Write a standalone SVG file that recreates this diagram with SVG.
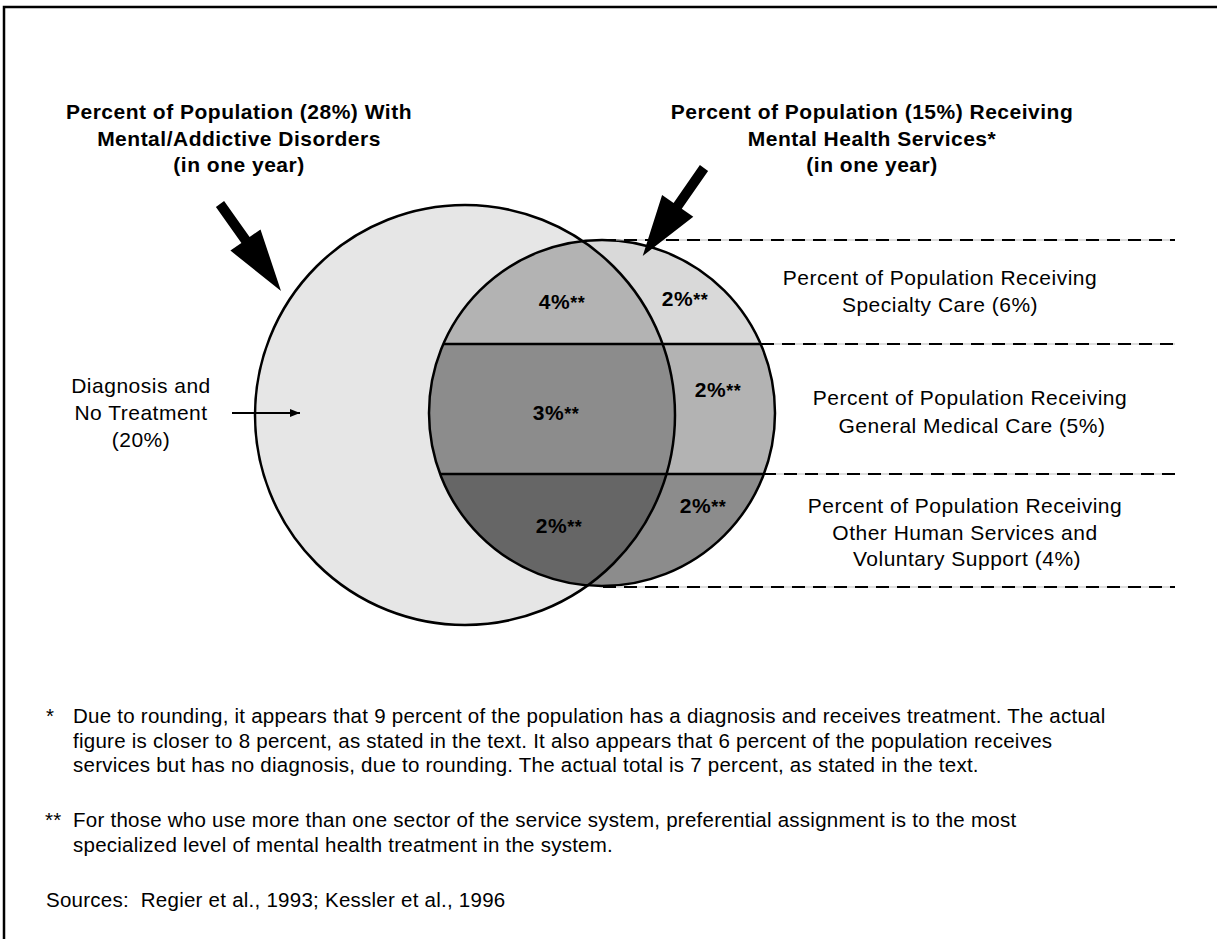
<svg xmlns="http://www.w3.org/2000/svg" width="1217" height="939" viewBox="0 0 1217 939">
<style>
text{font-family:"Liberation Sans",Arial,sans-serif;fill:#000}
.title{font-size:21px;font-weight:bold;letter-spacing:0.5px;text-anchor:middle}
.lab{font-size:21px;letter-spacing:0.5px;text-anchor:middle}
.pct{font-size:21px;font-weight:bold;letter-spacing:0.5px;text-anchor:middle}
.pct tspan{font-size:18px}
.foot{font-size:20.5px;letter-spacing:0.25px}
.dash{stroke:#000;stroke-width:2;stroke-dasharray:13 8;fill:none}
.guide{stroke:#bbb;stroke-width:1;fill:none}
.sep{stroke:#000;stroke-width:2.5}
.outline{fill:none;stroke:#000;stroke-width:2.5}
</style>
<defs>
<clipPath id="smallClip"><circle cx="602" cy="413" r="173"/></clipPath>
<clipPath id="bigClip"><circle cx="465" cy="415" r="210"/></clipPath>
<marker id="arr" viewBox="0 0 10 8" refX="10" refY="4" markerWidth="10" markerHeight="8" markerUnits="userSpaceOnUse" orient="auto"><path d="M0,0L10,4L0,8Z" fill="#000"/></marker>
</defs>
<g id="frame"><path d="M4,939V7H1217" fill="none" stroke="#000" stroke-width="2.5"/></g>
<g id="big-circle"><circle cx="465" cy="415" r="210" fill="#e6e6e6"/></g>
<g id="small-circle">
<g clip-path="url(#smallClip)">
<rect x="420" y="235" width="370" height="109" fill="#d9d9d9"/>
<rect x="420" y="344" width="370" height="130" fill="#b3b3b3"/>
<rect x="420" y="474" width="370" height="120" fill="#8c8c8c"/>
<g clip-path="url(#bigClip)">
<rect x="420" y="235" width="370" height="109" fill="#b3b3b3"/>
<rect x="420" y="344" width="370" height="130" fill="#8c8c8c"/>
<rect x="420" y="474" width="370" height="120" fill="#666666"/>
</g>
<line class="sep" x1="420" y1="344" x2="790" y2="344"/>
<line class="sep" x1="420" y1="474" x2="790" y2="474"/>
</g>
</g>
<g id="outlines">
<circle class="outline" cx="465" cy="415" r="210"/>
<circle class="outline" cx="602" cy="413" r="173"/>
</g>
<g id="connectors">
<path class="guide" d="M603,240H1175M761,344H1175M763,474H1175M603,587H1175"/>
<path class="dash" d="M603,240H1175M761,344H1175M763,474H1175M603,587H1175"/>
<polygon points="224.1,201.1 249.6,237.1 260.5,229.4 281,291 230.4,250.6 241.4,242.9 215.9,206.9" fill="#000"/>
<polygon points="708.1,170.9 681.8,208.7 693.3,216.7 642.7,256 662.1,194.9 673.6,202.9 699.9,165.1" fill="#000"/>
<line x1="232" y1="413" x2="300" y2="413" stroke="#000" stroke-width="2" marker-end="url(#arr)"/>
</g>
<g id="title-left">
<text class="title" x="239" y="119">Percent of Population (28%) With</text>
<text class="title" x="239" y="146">Mental/Addictive Disorders</text>
<text class="title" x="239" y="172">(in one year)</text>
</g>
<g id="title-right">
<text class="title" x="872" y="119">Percent of Population (15%) Receiving</text>
<text class="title" x="872" y="146">Mental Health Services*</text>
<text class="title" x="872" y="172">(in one year)</text>
</g>
<g id="label-diagnosis">
<text class="lab" x="141" y="393">Diagnosis and</text>
<text class="lab" x="141" y="420">No Treatment</text>
<text class="lab" x="141" y="447">(20%)</text>
</g>
<g id="label-specialty">
<text class="lab" x="940" y="285">Percent of Population Receiving</text>
<text class="lab" x="940" y="312">Specialty Care (6%)</text>
</g>
<g id="label-general">
<text class="lab" x="970" y="405">Percent of Population Receiving</text>
<text class="lab" x="972" y="433">General Medical Care (5%)</text>
</g>
<g id="label-other">
<text class="lab" x="965" y="513">Percent of Population Receiving</text>
<text class="lab" x="965" y="540">Other Human Services and</text>
<text class="lab" x="967" y="566">Voluntary Support (4%)</text>
</g>
<g id="percents">
<text class="pct" x="562" y="309">4%<tspan>**</tspan></text>
<text class="pct" x="685" y="306">2%<tspan>**</tspan></text>
<text class="pct" x="556" y="420">3%<tspan>**</tspan></text>
<text class="pct" x="718" y="397">2%<tspan>**</tspan></text>
<text class="pct" x="559" y="533">2%<tspan>**</tspan></text>
<text class="pct" x="703" y="513">2%<tspan>**</tspan></text>
</g>
<g id="footnotes">
<text class="foot" x="46" y="723">*</text>
<text class="foot" x="73" y="723">Due to rounding, it appears that 9 percent of the population has a diagnosis and receives treatment. The actual</text>
<text class="foot" x="73" y="748">figure is closer to 8 percent, as stated in the text. It also appears that 6 percent of the population receives</text>
<text class="foot" x="73" y="772">services but has no diagnosis, due to rounding. The actual total is 7 percent, as stated in the text.</text>
<text class="foot" x="45" y="827">**</text>
<text class="foot" x="73" y="827">For those who use more than one sector of the service system, preferential assignment is to the most</text>
<text class="foot" x="73" y="852">specialized level of mental health treatment in the system.</text>
<text class="foot" x="46" y="907" xml:space="preserve">Sources:  Regier et al., 1993; Kessler et al., 1996</text>
</g>
</svg>
